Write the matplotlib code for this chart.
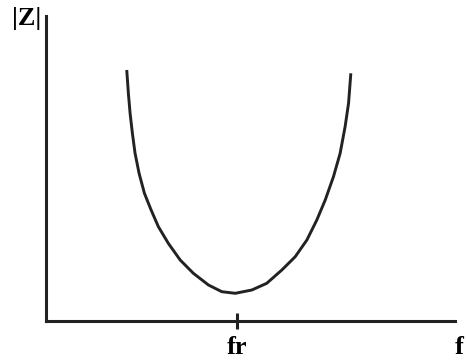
import matplotlib.pyplot as plt

# impedance magnitude vs frequency around series resonance (f in units of fr)
f = [0.4225, 0.431, 0.440, 0.452, 0.466, 0.487, 0.515, 0.550, 0.588, 0.640,
     0.702, 0.771, 0.850, 0.920, 0.990, 1.077, 1.155, 1.234, 1.304, 1.365,
     1.417, 1.461, 1.504, 1.539, 1.565, 1.583, 1.595]
z = [2.51, 2.277, 2.077, 1.877, 1.677, 1.477, 1.277, 1.11, 0.943, 0.777,
     0.61, 0.477, 0.36, 0.293, 0.277, 0.31, 0.377, 0.51, 0.643, 0.81,
     1.01, 1.21, 1.443, 1.677, 1.943, 2.177, 2.477]
tick_pos = [1.0]
tick_lab = ['fr']

W, H = 467, 364
fig = plt.figure(figsize=(W / 100, H / 100), dpi=100)
ax = fig.add_axes([46 / W, (H - 321) / H, (455 - 46) / W, (321 - 16) / H])

ax.plot(f, z, color='#222222', lw=2.1, solid_joinstyle='round',
        solid_capstyle='butt')
ax.set_xlim(0, 2.14)
ax.set_ylim(0, 3.05)

for s in ['top', 'right']:
    ax.spines[s].set_visible(False)
for s in ['left', 'bottom']:
    ax.spines[s].set_linewidth(2.2)
    ax.spines[s].set_color('#222222')

ax.set_yticks([])
ax.set_xticks(tick_pos, labels=tick_lab)
ax.tick_params(axis='x', direction='inout', length=12, width=2.2,
               color='#222222', pad=5)
for t in ax.get_xticklabels():
    t.set_fontfamily('Liberation Serif')
    t.set_fontweight('bold')
    t.set_fontsize(19)

fig.text(12 / W, 1 - 7 / H, '|Z|', family='Liberation Serif',
         weight='bold', fontsize=19, va='top', ha='left')
fig.text(455 / W, 1 - 336 / H, 'f', family='Liberation Serif',
         weight='bold', fontsize=19, va='top', ha='left')

fig.savefig('out.png', dpi=100)
